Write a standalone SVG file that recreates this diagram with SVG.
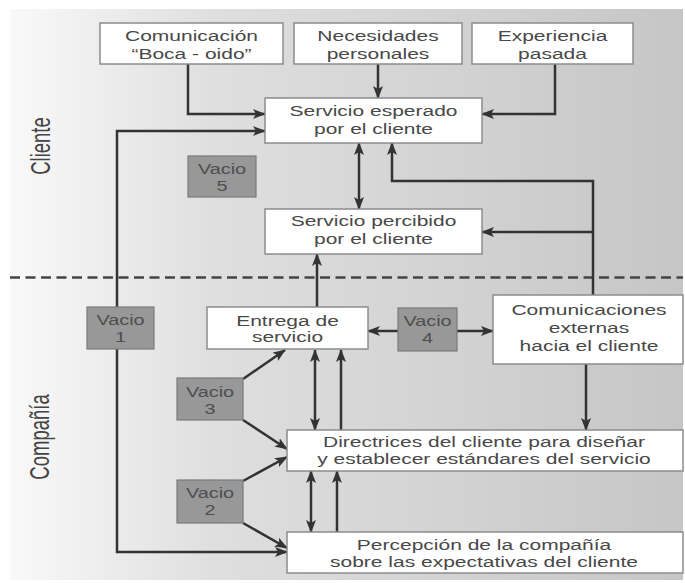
<svg xmlns="http://www.w3.org/2000/svg" width="685" height="583" viewBox="0 0 685 583">
<defs>
<linearGradient id="bg" x1="0" y1="0" x2="1" y2="0">
<stop offset="0" stop-color="#f9f9f9"/>
<stop offset="0.3" stop-color="#dfdfdf"/>
<stop offset="1" stop-color="#c6c6c6"/>
</linearGradient>
<marker id="ah" markerUnits="userSpaceOnUse" markerWidth="13" markerHeight="10" refX="12" refY="5" orient="auto-start-reverse">
<path d="M0,0 L13,5 L0,10 L3,5 z" fill="#333"/>
</marker>
<style>
.box{fill:#fff;stroke:#8c8c8c;stroke-width:1.5}
.gap{fill:#989898;stroke:#7a7a7a;stroke-width:1.2}
.t{font-family:"Liberation Sans",Arial,sans-serif;font-size:15px;fill:#484848;text-anchor:middle}
.g{font-family:"Liberation Sans",Arial,sans-serif;font-size:14px;fill:#4e4e4e;text-anchor:middle}
.side{font-family:"Liberation Sans",Arial,sans-serif;font-size:18.5px;fill:#444;text-anchor:middle}
.ln{fill:none;stroke:#333;stroke-width:2.5}
.e{marker-end:url(#ah)}
.b{marker-start:url(#ah);marker-end:url(#ah)}
</style>
</defs>
<rect x="0" y="0" width="685" height="583" fill="#fff"/>
<rect x="10" y="9" width="673" height="571" fill="url(#bg)"/>
<g id="divider">
<line x1="10" y1="277.5" x2="683" y2="277.5" stroke="#444" stroke-width="2.5" stroke-dasharray="10,5.5"/>
</g>
<g id="labels">
<text class="side" transform="translate(50,146) scale(1.45,1) rotate(-90)">Cliente</text>
<text class="side" transform="translate(49,437) scale(1.45,1) rotate(-90)">Compañía</text>
</g>
<g id="connectors">
<polyline class="ln e" points="188,64 188,114 265,114"/>
<polyline class="ln e" points="378,64 378,98"/>
<polyline class="ln e" points="555,64 555,114 482,114"/>
<polyline class="ln b" points="265,131 117,131 117,552 287,552"/>
<line class="ln b" x1="359" y1="143" x2="359" y2="209"/>
<polyline class="ln e" points="593,295 593,181 392,181 392,143"/>
<polyline class="ln e" points="593,232 482,232"/>
<line class="ln e" x1="317" y1="307" x2="317" y2="254"/>
<line class="ln e" x1="398" y1="331" x2="368" y2="331"/>
<line class="ln e" x1="457" y1="331" x2="493" y2="331"/>
<line class="ln e" x1="243" y1="379" x2="285" y2="350"/>
<line class="ln e" x1="243" y1="420" x2="287" y2="449"/>
<line class="ln e" x1="243" y1="481" x2="287" y2="457"/>
<line class="ln e" x1="243" y1="523" x2="287" y2="548"/>
<line class="ln b" x1="315" y1="350" x2="315" y2="430"/>
<line class="ln e" x1="341" y1="430" x2="341" y2="350"/>
<line class="ln b" x1="311" y1="471" x2="311" y2="532"/>
<line class="ln e" x1="337" y1="532" x2="337" y2="471"/>
<line class="ln e" x1="586" y1="364" x2="586" y2="430"/>
</g>
<g id="boca">
<rect class="box" x="100" y="23" width="183" height="41"/>
<text class="t" transform="translate(191.5,41) scale(1.4,1)">Comunicación</text>
<text class="t" transform="translate(191.5,59) scale(1.4,1)">“Boca - oido”</text>
</g>
<g id="necesidades">
<rect class="box" x="294" y="23" width="168" height="41"/>
<text class="t" transform="translate(378,41) scale(1.4,1)">Necesidades</text>
<text class="t" transform="translate(378,59) scale(1.4,1)">personales</text>
</g>
<g id="experiencia">
<rect class="box" x="472" y="23" width="161" height="41"/>
<text class="t" transform="translate(552.5,41) scale(1.4,1)">Experiencia</text>
<text class="t" transform="translate(552.5,59) scale(1.4,1)">pasada</text>
</g>
<g id="esperado">
<rect class="box" x="265" y="98" width="217" height="45"/>
<text class="t" transform="translate(373.5,116) scale(1.4,1)">Servicio esperado</text>
<text class="t" transform="translate(373.5,134) scale(1.4,1)">por el cliente</text>
</g>
<g id="percibido">
<rect class="box" x="265" y="209" width="217" height="45"/>
<text class="t" transform="translate(373.5,226) scale(1.4,1)">Servicio percibido</text>
<text class="t" transform="translate(373.5,244) scale(1.4,1)">por el cliente</text>
</g>
<g id="entrega">
<rect class="box" x="207" y="307" width="161" height="42"/>
<text class="t" transform="translate(287.5,326) scale(1.4,1)">Entrega de</text>
<text class="t" transform="translate(287.5,342) scale(1.4,1)">servicio</text>
</g>
<g id="comunicaciones">
<rect class="box" x="493" y="295" width="190" height="69"/>
<text class="t" transform="translate(589,315) scale(1.4,1)">Comunicaciones</text>
<text class="t" transform="translate(589,333) scale(1.4,1)">externas</text>
<text class="t" transform="translate(589,351) scale(1.4,1)">hacia el cliente</text>
</g>
<g id="directrices">
<rect class="box" x="287" y="430" width="396" height="41"/>
<text class="t" transform="translate(484,447) scale(1.4,1)">Directrices del cliente para diseñar</text>
<text class="t" transform="translate(484,464) scale(1.4,1)">y establecer estándares del servicio</text>
</g>
<g id="percepcion">
<rect class="box" x="287" y="532" width="396" height="41"/>
<text class="t" transform="translate(484,550) scale(1.4,1)">Percepción de la compañía</text>
<text class="t" transform="translate(484,567) scale(1.4,1)">sobre las expectativas del cliente</text>
</g>
<g id="vacio5">
<rect class="gap" x="188" y="156" width="68" height="41"/>
<text class="g" transform="translate(222,174) scale(1.42,1)">Vacio</text>
<text class="g" transform="translate(222,191) scale(1.42,1)">5</text>
</g>
<g id="vacio1">
<rect class="gap" x="87" y="307" width="67" height="42"/>
<text class="g" transform="translate(120.5,325) scale(1.42,1)">Vacio</text>
<text class="g" transform="translate(120.5,342) scale(1.42,1)">1</text>
</g>
<g id="vacio4">
<rect class="gap" x="398" y="308" width="59" height="43"/>
<text class="g" transform="translate(427.5,326) scale(1.42,1)">Vacio</text>
<text class="g" transform="translate(427.5,343) scale(1.42,1)">4</text>
</g>
<g id="vacio3">
<rect class="gap" x="177" y="378" width="66" height="42"/>
<text class="g" transform="translate(210,397) scale(1.42,1)">Vacio</text>
<text class="g" transform="translate(210,414) scale(1.42,1)">3</text>
</g>
<g id="vacio2">
<rect class="gap" x="177" y="480" width="66" height="43"/>
<text class="g" transform="translate(210,498) scale(1.42,1)">Vacio</text>
<text class="g" transform="translate(210,515) scale(1.42,1)">2</text>
</g>
</svg>
